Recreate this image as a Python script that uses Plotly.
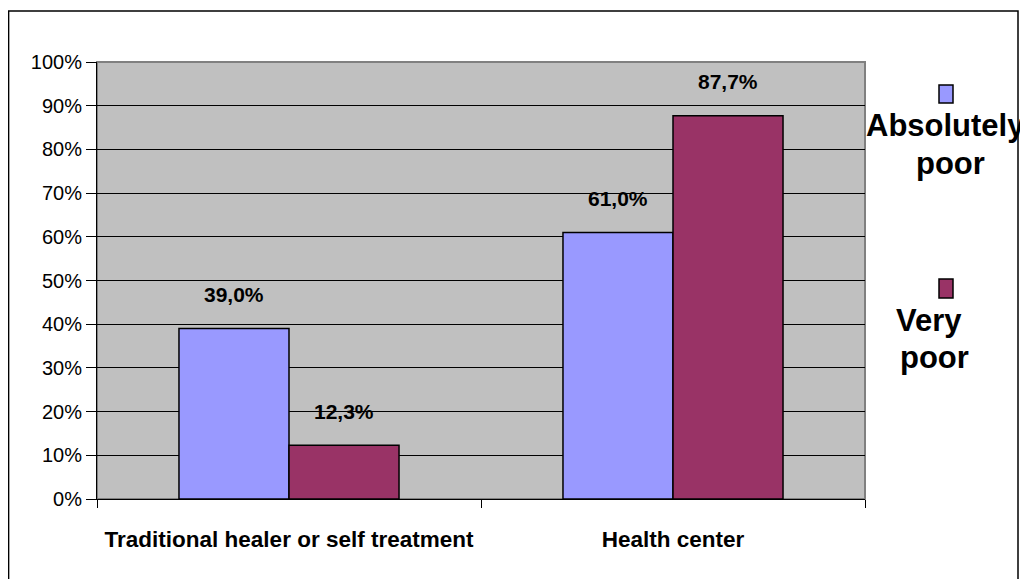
import plotly.graph_objects as go

categories = ["Traditional healer or self treatment", "Health center"]
series_names = ["Absolutely poor", "Very poor"]
absolutely_poor = [39.0, 61.0]
very_poor = [12.3, 87.7]
y_ticks = [0, 10, 20, 30, 40, 50, 60, 70, 80, 90, 100]
y_tick_labels = [f"{v}%" for v in y_ticks]

colors = ["#9999FF", "#993366"]
FONT = "Liberation Sans, Arial, sans-serif"

# the page body has an 8px margin: screen coords = figure coords + 8
OFF = 8
W, H = 1028 - OFF, 587 - 2 * OFF
L, T = 97 - OFF, 62 - OFF
R = W - (865 - OFF)
B = H - (499 - OFF)
bargap = 0.427

fig = go.Figure()
for name, vals, col in zip(series_names, [absolutely_poor, very_poor], colors):
    fig.add_trace(go.Bar(
        x=categories, y=vals, name=name,
        marker=dict(color=col, line=dict(color="black", width=1.5)),
        showlegend=False,
    ))

# data labels above bars
bar_w = (1 - bargap) / 2
for si, vals in enumerate([absolutely_poor, very_poor]):
    off = (si - 0.5) * bar_w
    for ci, v in enumerate(vals):
        fig.add_annotation(
            x=ci + off, y=v, xref="x", yref="y",
            text=f"<b>{v:.1f}%</b>".replace(".", ","),
            showarrow=False, yshift=34,
            font=dict(family=FONT, size=21, color="black"),
        )

pw = W - L - R
ph = H - T - B
def px(x):
    return (x - OFF - L) / pw
def py(y):
    return 1 - (y - OFF - T) / ph

# legend (manual): marker boxes and two-line bold labels
legend_boxes = [(85, 103), (279, 298)]
legend_lines = [
    [("Absolutely", 945, 125), ("poor", 950, 163)],
    [("Very", 929, 320), ("poor", 934, 357)],
]
for (y0, y1), lines, col in zip(legend_boxes, legend_lines, colors):
    fig.add_shape(type="rect", xref="paper", yref="paper",
                  x0=px(939), x1=px(953), y0=py(y1), y1=py(y0),
                  fillcolor=col, line=dict(color="black", width=1.5))
    for txt, cx, cy in lines:
        fig.add_annotation(xref="paper", yref="paper", x=px(cx), y=py(cy),
                           text=f"<b>{txt}</b>", showarrow=False,
                           font=dict(family=FONT, size=31, color="black"),
                           xanchor="center", yanchor="middle")

# outer border
fig.add_shape(type="rect", xref="paper", yref="paper",
              x0=px(8.6), x1=px(1018), y0=py(640), y1=py(11),
              line=dict(color="black", width=1.5), fillcolor="rgba(0,0,0,0)", layer="above")

fig.update_layout(
    width=W, height=H,
    margin=dict(l=L, r=R, t=T, b=B),
    paper_bgcolor="white",
    plot_bgcolor="#C0C0C0",
    barmode="group", bargap=bargap, bargroupgap=0,
    font=dict(family=FONT, size=20, color="black"),
)
fig.update_xaxes(
    showline=True, linecolor="black", linewidth=1,
    ticks="outside", ticklen=8, tickcolor="black", tickson="boundaries",
    tickfont=dict(family=FONT, size=22.5),
    tickvals=categories, ticktext=[f"<b>{c}</b>" for c in categories],
    ticklabelstandoff=20,
    showgrid=False, mirror=False,
)
fig.update_yaxes(
    range=[0, 100], tickvals=y_ticks, ticktext=y_tick_labels,
    showline=True, linecolor="black", linewidth=1,
    ticks="outside", ticklen=10, tickcolor="black",
    showgrid=True, gridcolor="black", gridwidth=1,
    tickfont=dict(family=FONT, size=20),
    zeroline=False,
)
# top/right border of plot area (gray)
fig.add_shape(type="rect", xref="paper", yref="paper", x0=0, x1=1, y0=0, y1=1,
              line=dict(color="#808080", width=2), layer="below")

fig.write_html("out.html")
